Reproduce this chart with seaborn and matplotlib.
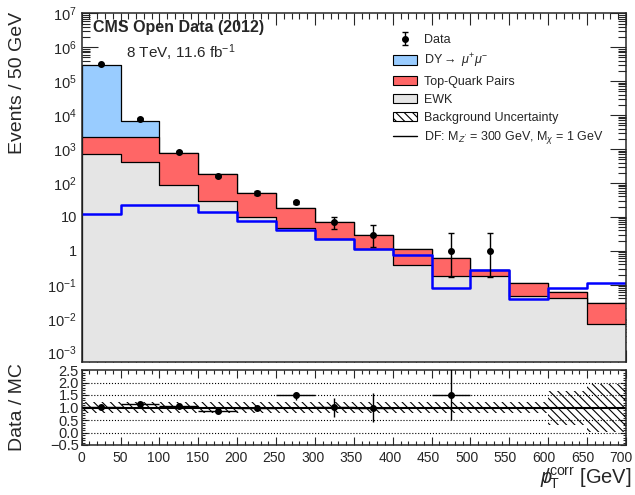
import numpy as np
import pandas as pd
import matplotlib
matplotlib.use("Agg")
import matplotlib.pyplot as plt
import seaborn as sns
from matplotlib.patches import Patch
from matplotlib.lines import Line2D
from matplotlib.transforms import ScaledTranslation
from matplotlib.ticker import MultipleLocator, FixedLocator, FuncFormatter, LogLocator, NullFormatter

# ---------------- data ----------------
bin_edges = [0, 50, 100, 150, 200, 250, 300, 350, 400, 450, 500, 550, 600, 650, 700]
ewk = [700, 410, 87, 29.5, 9.8, 4.6, 2.24, 1.11, 0.38, 0.186, 0.177, 0.046, 0.041, 0.0069]
top_pairs = [1600, 1890, 663, 154.5, 42.2, 13.4, 4.71, 1.83, 0.73, 0.444, 0.093, 0.07, 0.022, 0.0226]
dy = [2.98e5, 4.5e3, 0, 0, 0, 0, 0, 0, 0, 0, 0, 0, 0, 0]
signal = [12, 23, 23, 14.3, 7.8, 4.2, 2.2, 1.16, 0.78, 0.079, 0.28, 0.039, 0.079, 0.115]

data_centers = [25, 75, 125, 175, 225, 275, 325, 375, 475, 525]
data_vals = [3.1e5, 7.7e3, 800, 161, 52, 27, 7.0, 2.94, 1.0, 1.0]
data_err_lo = [2e3, 300, 50, 15, 7, 3, 2.7, 1.61, 0.83, 0.83]
data_err_hi = [2e3, 300, 50, 15, 7, 3, 3.2, 2.86, 2.3, 2.3]

ratio_centers = [25, 75, 125, 175, 225, 275, 325, 375, 475]
ratio_vals = [1.02, 1.13, 1.07, 0.85, 0.98, 1.49, 1.01, 1.0, 1.52]
ratio_err_lo = [0.01, 0.02, 0.03, 0.05, 0.06, 0.18, 0.37, 0.59, 1.02]
ratio_err_hi = [0.01, 0.02, 0.03, 0.05, 0.06, 0.15, 0.36, 0.57, 1.5]

unc_lo = [0.77, 0.77, 0.77, 0.77, 0.77, 0.77, 0.77, 0.77, 0.77, 0.77, 0.77, 0.77, 0.30, 0.04]
unc_hi = [1.23, 1.23, 1.23, 1.23, 1.23, 1.23, 1.23, 1.23, 1.23, 1.23, 1.23, 1.23, 1.68, 1.96]

y_tick_labels = [r"$10^{-3}$", r"$10^{-2}$", r"$10^{-1}$", "1", "10", r"$10^{2}$",
                 r"$10^{3}$", r"$10^{4}$", r"$10^{5}$", r"$10^{6}$", r"$10^{7}$"]

col_dy = "#99ccff"
col_top = "#ff6666"
col_ewk = "#e5e5e5"
col_sig = "#0000ff"

# ---------------- style ----------------
sns.set_style("ticks")
plt.rcParams["font.family"] = ["Liberation Sans", "DejaVu Sans"]
plt.rcParams["mathtext.fontset"] = "custom"
plt.rcParams["mathtext.rm"] = "Liberation Sans"
plt.rcParams["mathtext.it"] = "Liberation Sans:italic"
plt.rcParams["mathtext.bf"] = "Liberation Sans:bold"
plt.rcParams["hatch.linewidth"] = 0.8

edges = np.array(bin_edges, dtype=float)
centers = 0.5 * (edges[:-1] + edges[1:])
nbins = len(bin_edges) - 1
brange = (bin_edges[0], bin_edges[-1])
ewk_a = np.array(ewk)
cum_top = ewk_a + np.array(top_pairs)
cum_all = cum_top + np.array(dy)

fig = plt.figure(figsize=(6.35, 4.95), dpi=100)
L, W = 81.7 / 635, (626 - 81.7) / 635
ax = fig.add_axes([L, 1 - 362 / 495, W, (362 - 13.3) / 495])
rax = fig.add_axes([L, 1 - 445 / 495, W, 75 / 495])

ax.set_yscale("log")
df = pd.DataFrame({"pt": centers, "w_all": cum_all, "w_top": cum_top, "w_ewk": ewk_a,
                   "w_sig": np.array(signal)})
for col, fc in [("w_all", col_dy), ("w_top", col_top), ("w_ewk", col_ewk)]:
    sns.histplot(data=df, x="pt", weights=col, bins=nbins, binrange=brange, element="step",
                 fill=True, facecolor=fc, edgecolor="black", linewidth=0.9, alpha=1, ax=ax)
sns.histplot(data=df, x="pt", weights="w_sig", bins=nbins, binrange=brange, element="step",
             fill=False, color=col_sig, linewidth=1.8, ax=ax)

eb = ax.errorbar(data_centers, data_vals, yerr=[data_err_lo, data_err_hi], fmt="o",
                 color="black", ms=4, capsize=2, elinewidth=1, capthick=1, zorder=5)

ax.set_xlim(0, 700)
ax.set_ylim(5.3e-4, 1e7)
ax.set_xlabel("")
ax.set_ylabel("")
ax.yaxis.set_major_locator(FixedLocator([10.0 ** k for k in range(-3, 8)]))
ax.yaxis.set_major_formatter(FuncFormatter(lambda v, p: y_tick_labels[int(round(np.log10(v))) + 3]))
ax.yaxis.set_minor_locator(LogLocator(base=10, subs=np.arange(2, 10), numticks=40))
ax.yaxis.set_minor_formatter(NullFormatter())
ax.xaxis.set_major_locator(MultipleLocator(50))
ax.xaxis.set_minor_locator(MultipleLocator(10))
ax.tick_params(axis="x", which="major", direction="in", length=8.4, width=0.8, top=True, bottom=True, labelbottom=False)
ax.tick_params(axis="x", which="minor", direction="in", length=4.3, width=0.8, top=True, bottom=True)
ax.tick_params(axis="y", which="major", direction="in", length=11.5, width=0.8, left=True, right=True, labelsize=10.5)
ax.tick_params(axis="y", which="minor", direction="in", length=5.8, width=0.8, left=True, right=True)
for s in ax.spines.values():
    s.set_linewidth(1.1)

# ---------------- ratio panel ----------------
rax.fill_between(edges, np.append(unc_lo, unc_lo[-1]), np.append(unc_hi, unc_hi[-1]), step="post",
                 facecolor="none", edgecolor="black", hatch="\\\\\\\\", linewidth=0)
for yv in [0.0, 0.5, 1.5, 2.0]:
    rax.axhline(yv, color="black", ls=":", lw=0.8)
rax.axhline(1.0, color="black", lw=1.5)
rax.errorbar(ratio_centers, ratio_vals, xerr=25, yerr=[ratio_err_lo, ratio_err_hi], fmt="o",
             color="black", ms=4, capsize=0, elinewidth=1, zorder=5)
rax.set_xlim(0, 700)
rax.set_ylim(-0.5, 2.5)
rax.yaxis.set_major_locator(FixedLocator([-0.5, 0, 0.5, 1.0, 1.5, 2.0, 2.5]))
rax.yaxis.set_major_formatter(FuncFormatter(lambda v, p: f"{v:.1f}".replace("-", "\u2212")))
rax.yaxis.set_minor_locator(MultipleLocator(0.1))
rax.xaxis.set_major_locator(MultipleLocator(50))
rax.xaxis.set_minor_locator(MultipleLocator(10))
rax.tick_params(axis="x", which="major", direction="in", length=5.5, width=0.8, top=True, bottom=True, labelsize=10, pad=4)
rax.tick_params(axis="x", which="minor", direction="in", length=3, width=0.8, top=True, bottom=True)
rax.tick_params(axis="y", which="major", direction="in", length=4, width=0.8, left=True, right=True, labelsize=10.5, pad=2)
rax.tick_params(axis="y", which="minor", direction="in", length=2, width=0.8, left=True, right=True)
for s in rax.spines.values():
    s.set_linewidth(1.1)
# ROOT-like slight leftward drift of the x tick labels (grows toward the right end)
for lab in rax.get_xticklabels():
    v = lab.get_position()[0]
    lab.set_transform(lab.get_transform() +
                      ScaledTranslation(-5.0 * v / 700 / 100, 0, fig.dpi_scale_trans))

# ---------------- text ----------------
fig.text(93 / 635, 1 - 27.3 / 495, "CMS Open Data (2012)", fontweight="bold", fontsize=11.5, va="center", ha="left")
fig.text(126 / 635, 1 - 52.7 / 495, r"8 TeV, 11.6 fb$^{-1}$", fontsize=11, va="center", ha="left")
fig.text(17.5 / 635, 1 - 12 / 495, "Events / 50 GeV", rotation=90, ha="center", va="top", fontsize=14)
fig.text(17.5 / 635, 1 - 407.5 / 495, "Data / MC", rotation=90, ha="center", va="center", fontsize=14)
fig.text(632 / 635, 1 - 478 / 495, r"$p\!\!\!/_{\mathrm{T}}^{\mathrm{corr}}$ [GeV]", ha="right", va="center", fontsize=14.5)

handles = [eb,
           Patch(facecolor=col_dy, edgecolor="black", linewidth=0.8),
           Patch(facecolor=col_top, edgecolor="black", linewidth=0.8),
           Patch(facecolor=col_ewk, edgecolor="black", linewidth=0.8),
           Patch(facecolor="white", edgecolor="black", linewidth=0.8, hatch="\\\\\\\\"),
           Line2D([], [], color="black", lw=1)]
labels = ["Data", r"DY$\rightarrow$ $\mu^{+}\mu^{-}$", "Top-Quark Pairs", "EWK",
          "Background Uncertainty", r"DF: M$_{Z'}$ = 300 GeV, M$_{\chi}$ = 1 GeV"]
fig.legend(handles, labels, loc="upper left", bbox_to_anchor=(393 / 635, 1 - 34 / 495),
           frameon=False, fontsize=9, borderpad=0, borderaxespad=0, handlelength=1.95,
           handleheight=0.75, handletextpad=0.5, labelspacing=0.47)

fig.savefig("out.png", dpi=100)
